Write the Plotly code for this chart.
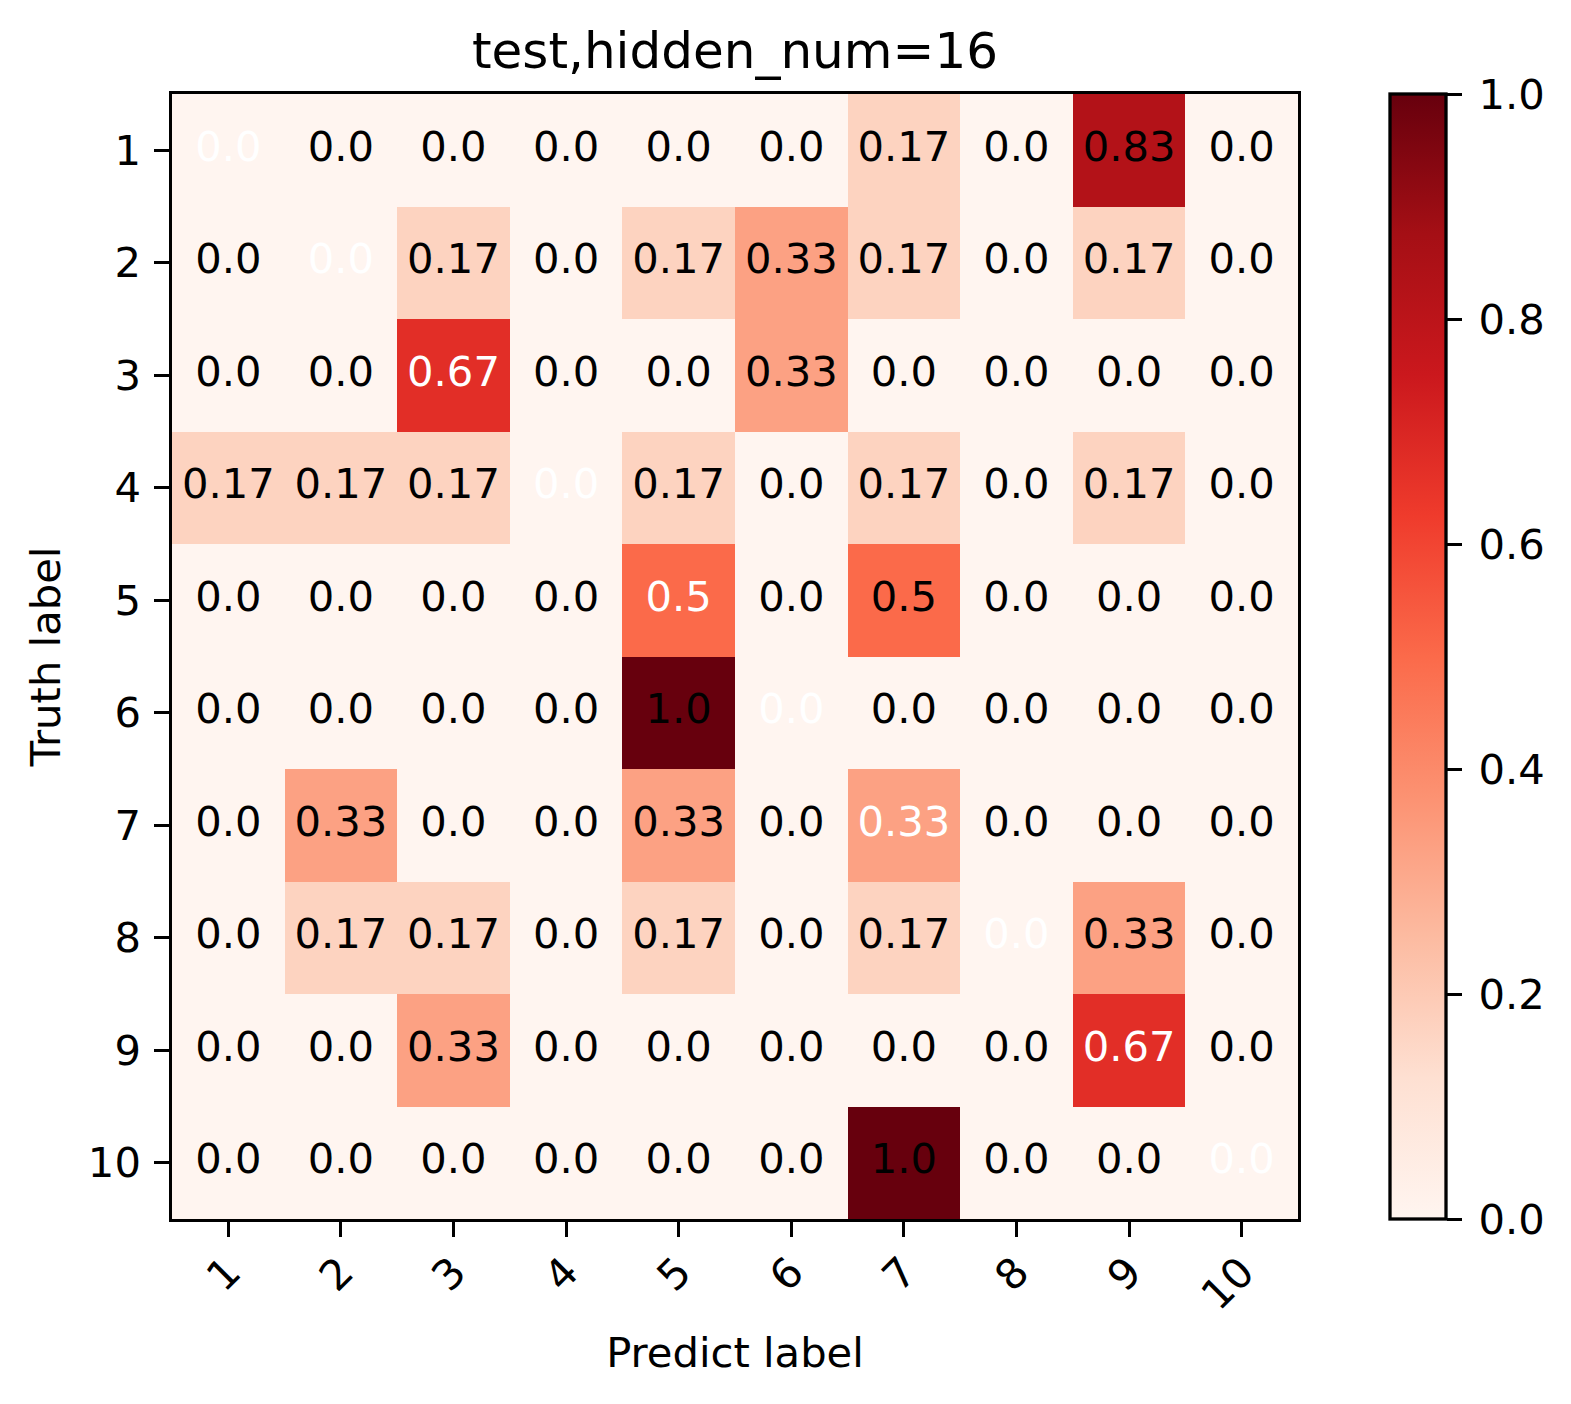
import plotly.graph_objects as go

labels = [1, 2, 3, 4, 5, 6, 7, 8, 9, 10]
matrix = [
    [0.0, 0.0, 0.0, 0.0, 0.0, 0.0, 0.17, 0.0, 0.83, 0.0],
    [0.0, 0.0, 0.17, 0.0, 0.17, 0.33, 0.17, 0.0, 0.17, 0.0],
    [0.0, 0.0, 0.67, 0.0, 0.0, 0.33, 0.0, 0.0, 0.0, 0.0],
    [0.17, 0.17, 0.17, 0.0, 0.17, 0.0, 0.17, 0.0, 0.17, 0.0],
    [0.0, 0.0, 0.0, 0.0, 0.5, 0.0, 0.5, 0.0, 0.0, 0.0],
    [0.0, 0.0, 0.0, 0.0, 1.0, 0.0, 0.0, 0.0, 0.0, 0.0],
    [0.0, 0.33, 0.0, 0.0, 0.33, 0.0, 0.33, 0.0, 0.0, 0.0],
    [0.0, 0.17, 0.17, 0.0, 0.17, 0.0, 0.17, 0.0, 0.33, 0.0],
    [0.0, 0.0, 0.33, 0.0, 0.0, 0.0, 0.0, 0.0, 0.67, 0.0],
    [0.0, 0.0, 0.0, 0.0, 0.0, 0.0, 1.0, 0.0, 0.0, 0.0],
]
cbar_ticks = [0.0, 0.2, 0.4, 0.6, 0.8, 1.0]

reds = ["#fff5f0", "#fee0d2", "#fcbba1", "#fc9272", "#fb6a4a",
        "#ef3b2c", "#cb181d", "#a50f15", "#67000d"]
colorscale = [[i / (len(reds) - 1), c] for i, c in enumerate(reds)]

FONT = "DejaVu Sans"
FS = 41.7
LW = 3.3
TL = 14.6

ML, MT = 164, 86
PW, PH = 1126, 1125

tx, ty, tt, tc = [], [], [], []
for i, row in enumerate(matrix):
    for j, v in enumerate(row):
        tx.append(labels[j])
        ty.append(labels[i])
        tt.append(str(round(v, 2)))
        tc.append("white" if i == j else "black")

fig = go.Figure()
fig.add_trace(go.Heatmap(
    x=labels, y=labels, z=matrix, zmin=0, zmax=1,
    colorscale=colorscale, hoverinfo="skip",
    colorbar=dict(
        x=(1382 - ML) / PW, xanchor="left", xpad=0, ypad=0,
        y=0.5, yanchor="middle", len=1, lenmode="fraction",
        thickness=56, outlinewidth=LW, outlinecolor="black",
        tickvals=cbar_ticks,
        ticktext=["\u2009" + f"{t:.1f}" for t in cbar_ticks],
        ticks="outside", ticklen=TL, tickwidth=LW, tickcolor="black",
        tickfont=dict(family=FONT, size=FS, color="black"),
    ),
))
fig.add_trace(go.Scatter(
    x=tx, y=ty, text=tt, mode="text",
    textfont=dict(family=FONT, size=FS, color=tc),
    hoverinfo="skip", showlegend=False,
))

axis_common = dict(
    showgrid=False, zeroline=False, showline=True, mirror=True,
    linecolor="black", linewidth=LW,
    ticks="outside", ticklen=TL, tickwidth=LW, tickcolor="black",
    tickfont=dict(family=FONT, size=FS, color="black"),
    tickvals=labels, ticktext=[str(l) for l in labels],
)
fig.update_layout(
    width=1571, height=1404,
    margin=dict(l=ML, r=1571 - ML - PW, t=MT, b=1404 - MT - PH),
    paper_bgcolor="white", plot_bgcolor="white",
    font=dict(family=FONT, color="black"),
    showlegend=False,
    title=dict(text="test,hidden_num=16", x=0.5,
               xref="paper", xanchor="center", yref="paper", y=1,
               yanchor="bottom", pad=dict(b=26),
               font=dict(family=FONT, size=50, color="black")),
    xaxis=dict(axis_common, range=[0.5, 10.5], tickangle=-45,
               ticklabelstandoff=-6,
               title=dict(text="Predict label", standoff=20,
                          font=dict(family=FONT, size=FS, color="black"))),
    yaxis=dict(axis_common, range=[10.5, 0.5], ticklabelstandoff=5,
               title=dict(text="Truth label", standoff=15,
                          font=dict(family=FONT, size=FS, color="black"))),
)

fig.write_html("out.html")
